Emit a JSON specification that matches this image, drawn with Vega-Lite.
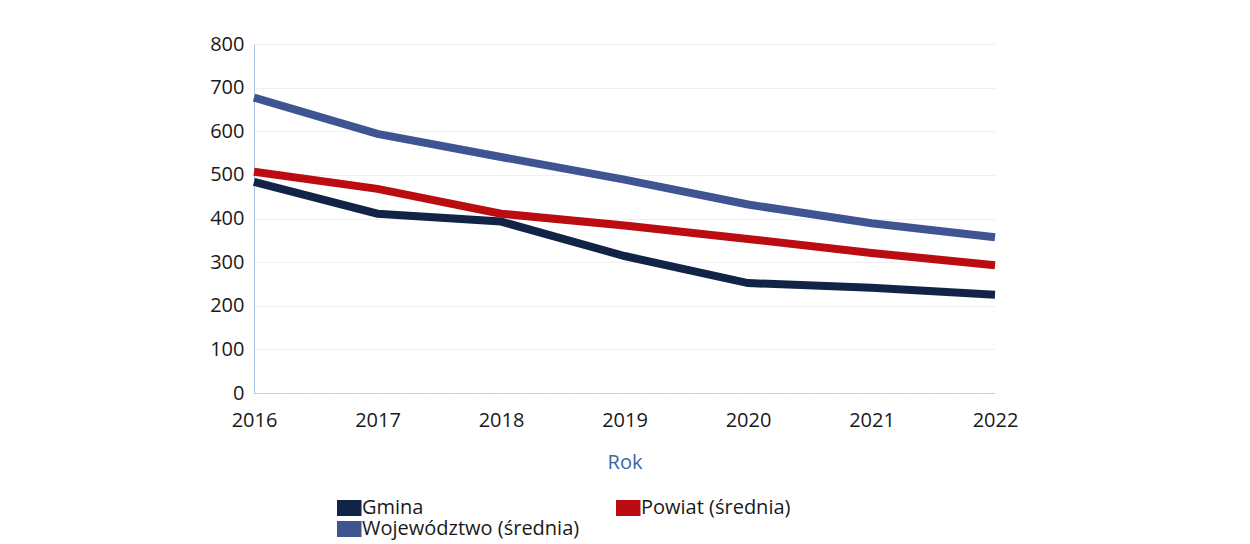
{
  "$schema": "https://vega.github.io/schema/vega-lite/v6.json",
  "width": 741,
  "height": 349,
  "padding": {"left": 254, "top": 44, "right": 255, "bottom": 151},
  "autosize": {"type": "none"},
  "background": "white",
  "config": {
    "view": {"stroke": null},
    "font": "Open Sans",
    "axis": {"labelFont": "Open Sans", "titleFont": "Open Sans"},
    "legend": {"labelFont": "Open Sans"}
  },
  "data": {
    "values": [
      {"rok": 2016, "seria": "Gmina", "v": 484},
      {"rok": 2017, "seria": "Gmina", "v": 411},
      {"rok": 2018, "seria": "Gmina", "v": 393},
      {"rok": 2019, "seria": "Gmina", "v": 314},
      {"rok": 2020, "seria": "Gmina", "v": 252},
      {"rok": 2021, "seria": "Gmina", "v": 241},
      {"rok": 2022, "seria": "Gmina", "v": 225},
      {"rok": 2016, "seria": "Powiat (średnia)", "v": 507},
      {"rok": 2017, "seria": "Powiat (średnia)", "v": 468},
      {"rok": 2018, "seria": "Powiat (średnia)", "v": 411},
      {"rok": 2019, "seria": "Powiat (średnia)", "v": 384},
      {"rok": 2020, "seria": "Powiat (średnia)", "v": 353},
      {"rok": 2021, "seria": "Powiat (średnia)", "v": 321},
      {"rok": 2022, "seria": "Powiat (średnia)", "v": 293},
      {"rok": 2016, "seria": "Województwo (średnia)", "v": 677},
      {"rok": 2017, "seria": "Województwo (średnia)", "v": 594},
      {"rok": 2018, "seria": "Województwo (średnia)", "v": 541},
      {"rok": 2019, "seria": "Województwo (średnia)", "v": 489},
      {"rok": 2020, "seria": "Województwo (średnia)", "v": 432},
      {"rok": 2021, "seria": "Województwo (średnia)", "v": 389},
      {"rok": 2022, "seria": "Województwo (średnia)", "v": 357}
    ]
  },
  "mark": {"type": "line", "strokeJoin": "miter", "strokeCap": "butt"},
  "encoding": {
    "x": {
      "field": "rok", "type": "quantitative",
      "scale": {"domain": [2016, 2022], "nice": false, "zero": false},
      "axis": {
        "values": [2016, 2017, 2018, 2019, 2020, 2021, 2022],
        "format": "d", "title": "Rok", "grid": false, "ticks": false,
        "domainColor": "#a8c4e4", "domainDash": [2, 1], "domainWidth": 1,
        "labelFontSize": 20, "labelColor": "#1a1a1a", "labelPadding": 17,
        "labelFlush": false, "labelOverlap": false,
        "titleFontSize": 20, "titleFontWeight": "normal", "titleColor": "#3d66a3",
        "titlePadding": 22
      }
    },
    "y": {
      "field": "v", "type": "quantitative",
      "scale": {"domain": [0, 800], "nice": false},
      "axis": {
        "values": [0, 100, 200, 300, 400, 500, 600, 700, 800],
        "title": null, "ticks": false,
        "grid": true, "gridColor": "#f0f0f0", "gridWidth": 1,
        "domainColor": "#a8c4e4", "domainWidth": 1,
        "labelFontSize": 20, "labelColor": "#1a1a1a", "labelPadding": 10,
        "labelOverlap": false
      }
    },
    "color": {
      "field": "seria", "type": "nominal",
      "scale": {
        "domain": ["Gmina", "Powiat (średnia)", "Województwo (średnia)"],
        "range": ["#112447", "#bb0c12", "#3f5592"]
      },
      "legend": {
        "orient": "none", "legendX": 83, "legendY": 454,
        "direction": "horizontal", "columns": 2, "columnPadding": 36,
        "rowPadding": 1, "clipHeight": 20, "labelLimit": 400, "title": null,
        "symbolType": "M-2.1,-0.8H2.1V0.8H-2.1Z", "symbolSize": 100,
        "symbolStrokeWidth": 0, "symbolOpacity": 1,
        "labelFontSize": 20, "labelColor": "#1a1a1a", "labelOffset": 5
      }
    },
    "strokeWidth": {
      "field": "seria", "type": "nominal",
      "scale": {
        "domain": ["Gmina", "Powiat (średnia)", "Województwo (średnia)"],
        "range": [8, 8, 10]
      },
      "legend": null
    }
  }
}
